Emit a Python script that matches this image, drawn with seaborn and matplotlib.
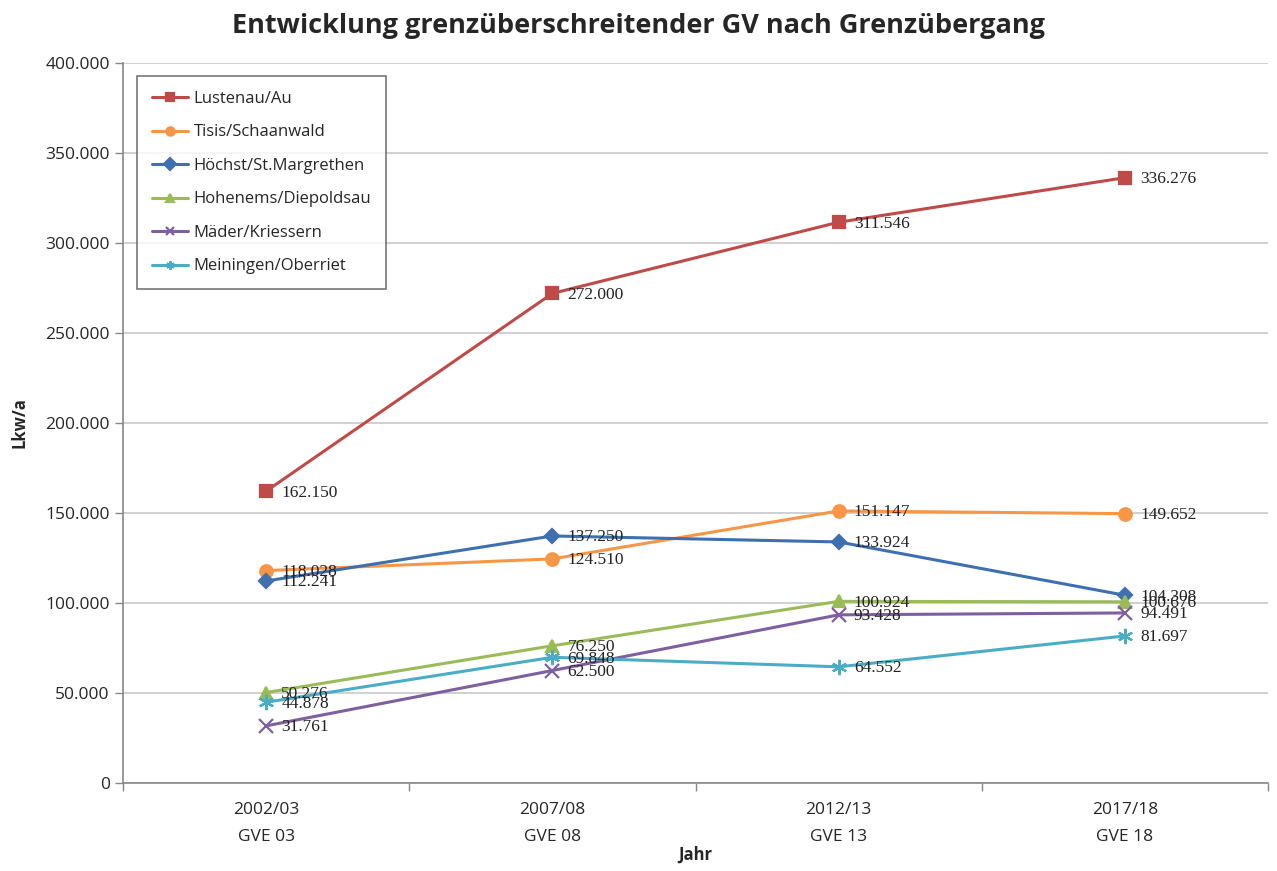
import matplotlib
matplotlib.use("Agg")
import matplotlib.pyplot as plt
import matplotlib.ticker as mticker
import seaborn as sns
import pandas as pd

periods = ["2002/03\nGVE 03", "2007/08\nGVE 08", "2012/13\nGVE 13", "2017/18\nGVE 18"]
crossings = ["Lustenau/Au", "Tisis/Schaanwald", "Höchst/St.Margrethen",
             "Hohenems/Diepoldsau", "Mäder/Kriessern", "Meiningen/Oberriet"]
lustenau = [162150, 272000, 311546, 336276]
tisis = [118028, 124510, 151147, 149652]
hoechst = [112241, 137250, 133924, 104308]
hohenems = [50276, 76250, 100924, 100676]
maeder = [31761, 62500, 93428, 94491]
meiningen = [44878, 69848, 64552, 81697]
series = [lustenau, tisis, hoechst, hohenems, maeder, meiningen]

colors = ["#BE4B48", "#F79646", "#3E70B0", "#9BBB59", "#7E5F9F", "#4BACC6"]
markers = ["s", "o", "D", "^", "x", (6, 2, 0)]
msizes = [9, 9, 7, 9, 10, 11]

rows = []
for name, vals in zip(crossings, series):
    for i, v in enumerate(vals):
        rows.append({"Grenzübergang": name, "pos": i, "Lkw": v})
df = pd.DataFrame(rows)

sns.set_theme(style="white")
plt.rcParams["font.family"] = ["Open Sans", "DejaVu Sans"]

fig = plt.figure(figsize=(12.77, 8.71), dpi=100)
ax = fig.add_axes([0.0963, 0.101, 0.8967, 0.8267])


def de_fmt(v):
    return f"{int(round(v)):,}".replace(",", ".")


for name, col, mk, ms in zip(crossings, colors, markers, msizes):
    sub = df[df["Grenzübergang"] == name]
    sns.lineplot(data=sub, x="pos", y="Lkw", ax=ax, color=col, marker=mk,
                 markersize=ms, markeredgecolor=col, markeredgewidth=1.6,
                 linewidth=2.2, label=name, legend=False)
    for x, y in zip(sub["pos"], sub["Lkw"]):
        ax.annotate(de_fmt(y), (x, y), xytext=(11, -1), textcoords="offset points",
                    ha="left", va="center", fontsize=12.5, color="#222222",
                    family="Liberation Serif")

ax.set_xlim(-0.5, 3.5)
ax.set_ylim(0, 400000)
ax.yaxis.set_major_locator(mticker.MultipleLocator(50000))
ax.yaxis.set_major_formatter(mticker.FuncFormatter(lambda v, p: de_fmt(v)))
ax.set_xticks(range(4))
ax.set_xticklabels(periods, fontsize=12.5, linespacing=1.9)
ax.set_xticks([-0.5, 0.5, 1.5, 2.5, 3.5], minor=True)
ax.tick_params(axis="x", which="major", length=0, pad=14)
ax.tick_params(axis="x", which="minor", length=6, width=1, color="#888888", bottom=True)
ax.tick_params(axis="y", length=6, width=1, color="#888888", labelsize=12.5, left=True)
ax.yaxis.grid(True, color="#C8C8C8", linewidth=1.2)
ax.set_axisbelow(True)
for s in ["top", "right"]:
    ax.spines[s].set_visible(False)
for s in ["left", "bottom"]:
    ax.spines[s].set_color("#888888")
    ax.spines[s].set_linewidth(1.2)

ax.set_xlabel("Jahr", fontsize=12, fontweight="bold", labelpad=0)
ax.set_ylabel("Lkw/a", fontsize=12, fontweight="bold", labelpad=12)

fig.suptitle("Entwicklung grenzüberschreitender GV nach Grenzübergang",
             fontsize=19.5, fontweight="bold", y=0.985)

handles, labels = ax.get_legend_handles_labels()
leg = ax.legend(handles, labels, loc="upper left", bbox_to_anchor=(0.012, 0.982),
                borderaxespad=0, fontsize=12, frameon=True, fancybox=False,
                edgecolor="#555555", handlelength=2.2, labelspacing=1.05,
                borderpad=0.9, handletextpad=0.3)
leg.get_frame().set_linewidth(1.2)
for h in leg.legend_handles:
    h.set_markersize(6)

fig.savefig("out.png", dpi=100)
